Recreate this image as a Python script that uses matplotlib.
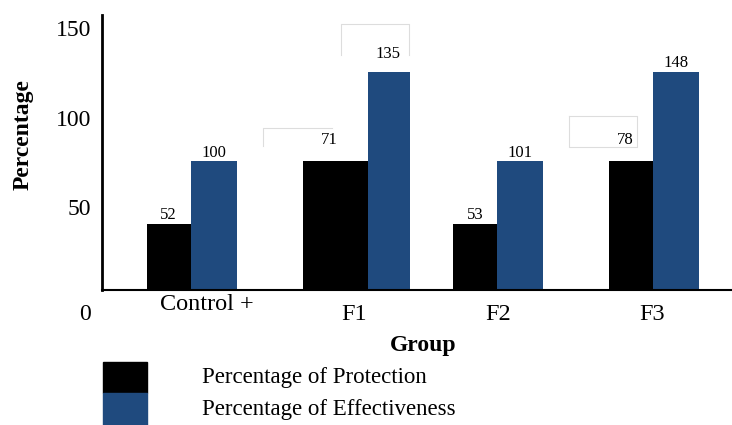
import matplotlib
matplotlib.use("Agg")
import matplotlib.pyplot as plt
from matplotlib.patches import Rectangle
from matplotlib.lines import Line2D
from matplotlib.transforms import ScaledTranslation

groups = ["Control +", "F1", "F2", "F3"]
protection = [52, 71, 53, 78]
effectiveness = [100, 135, 101, 148]
# heights the bars are actually drawn at on the axis (the source is not to scale)
protection_drawn = [37, 72, 37, 72]
effectiveness_drawn = [72, 122, 72, 122]
ytick_vals = [0, 50, 100, 150]
series_names = ["Percentage of Protection", "Percentage of Effectiveness"]

BLACK = "#000000"
BLUE = "#1f4a7e"
W, H = 732, 425

# layout (group position = boundary between the two bars)
group_x = [0.59, 1.77, 2.63, 3.67]
w_black = [0.29, 0.43, 0.29, 0.29]
w_blue = [0.31, 0.28, 0.31, 0.31]
tick_x = [0.70, 1.68, 2.64, 3.67]
tick_py = [305, 315, 315, 314]
# label offsets in pixels (dx, dy above bar top)
off_p = [(0, 9), (-6, 21), (1, 9), (-6, 21)]
off_e = [(0, 8), (-1, 18), (0, 8), (0, 9)]

plt.rcParams["font.family"] = ["Liberation Serif", "DejaVu Serif"]


def fx(px):
    return px / W


def fy(py):
    return 1 - py / H


fig = plt.figure(figsize=(W / 100, H / 100), dpi=100)
ax = fig.add_axes([fx(102), fy(290), fx(732) - fx(102), fy(15) - fy(290)])
ax.set_xlim(0, 4.2)
ax.set_ylim(0, 153.6)

for i in range(len(groups)):
    ax.bar(group_x[i] - w_black[i], protection_drawn[i], width=w_black[i],
           align="edge", color=BLACK)
    ax.bar(group_x[i], effectiveness_drawn[i], width=w_blue[i],
           align="edge", color=BLUE)
    ax.annotate(str(protection[i]),
                (group_x[i] - w_black[i] / 2, protection_drawn[i]),
                xytext=(off_p[i][0] * 0.72, off_p[i][1] * 0.72),
                textcoords="offset points", ha="center", va="center",
                fontsize=12)
    ax.annotate(str(effectiveness[i]),
                (group_x[i] + w_blue[i] / 2, effectiveness_drawn[i]),
                xytext=(off_e[i][0] * 0.72, off_e[i][1] * 0.72),
                textcoords="offset points", ha="center", va="center",
                fontsize=12)

for s in ["top", "right"]:
    ax.spines[s].set_visible(False)
ax.spines["left"].set_linewidth(2)
ax.spines["bottom"].set_linewidth(1.5)
ax.set_xticks([])
ax.set_yticks([v - 3.7 for v in ytick_vals[1:]])
ax.set_yticklabels([str(v) for v in ytick_vals[1:]], fontsize=17)
ax.tick_params(axis="y", length=0, pad=8)
fig.text(fx(91), fy(314), str(ytick_vals[0]), ha="right", va="center",
         fontsize=17)

for i, g in enumerate(groups):
    ax.text(tick_x[i], 0, g, fontsize=17.5, ha="center", va="center",
            transform=ax.get_xaxis_transform() + ScaledTranslation(
                0, -(tick_py[i] - 290) / 100, fig.dpi_scale_trans))

fig.text(fx(23), fy(135), "Percentage", rotation=90, ha="center",
         va="center", fontsize=17, fontweight="bold")
fig.text(fx(423), fy(346), "Group", ha="center", va="center", fontsize=17,
         fontweight="bold")

# stray, partly hidden text boxes in the source
def outline(pts):
    fig.add_artist(Line2D([fx(p[0]) for p in pts], [fy(p[1]) for p in pts],
                          color="#dddddd", linewidth=0.8,
                          transform=fig.transFigure))


outline([(263, 146), (263, 128), (332, 128)])
outline([(341, 55), (341, 24), (409, 24), (409, 55)])
outline([(569, 116), (637, 116), (637, 147), (569, 147), (569, 116)])

# legend
for k, (c, top, bot) in enumerate([(BLACK, 362, 393), (BLUE, 393, 425)]):
    fig.patches.append(Rectangle((fx(103), fy(bot)), fx(147) - fx(103),
                                 fy(top) - fy(bot), color=c,
                                 transform=fig.transFigure))
    fig.text(fx(202), fy((top + bot) / 2), series_names[k], ha="left",
             va="center", fontsize=16.5)

fig.savefig("out.png", dpi=100)
